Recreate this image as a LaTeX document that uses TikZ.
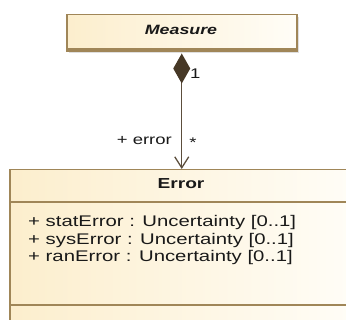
\documentclass[tikz,border=0pt]{standalone}
\usepackage{fontspec}
\setmainfont{Liberation Sans}[FakeStretch=1.32]
\usetikzlibrary{arrows.meta,shadows,calc}
\definecolor{umlborder}{RGB}{160,134,88}
\definecolor{umlfillA}{RGB}{252,238,205}
\definecolor{umlfillB}{RGB}{255,253,247}
\definecolor{umlline}{RGB}{92,78,60}
\definecolor{umldiam}{RGB}{70,56,38}
\definecolor{umltext}{RGB}{25,25,25}
\begin{document}
\begin{tikzpicture}[x=1pt,y=-1pt,
  classbox/.style={draw=umlborder, line width=1.5pt, left color=umlfillA, right color=umlfillB, inner sep=0pt},
  sepline/.style={draw=umlborder, line width=1.5pt},
  attr/.style={font=\fontsize{15.4}{18}\selectfont, text=umltext, inner sep=0pt},
  ctitle/.style={font=\fontsize{14.5}{17}\selectfont\bfseries, text=umltext, inner sep=0pt},
  lbl/.style={font=\fontsize{14}{16}\selectfont, text=umltext, inner sep=0pt},
  assoc/.style={draw=umlline, line width=1.3pt}
]
\useasboundingbox (0,0) rectangle (346,320);
\clip (0,0) rectangle (346,320);
% Measure class
\node[classbox, minimum width=230pt, minimum height=36.5pt, anchor=north west,
      drop shadow={shadow xshift=2pt, shadow yshift=-2pt, opacity=0.25}] (m) at (66,14) {};
\draw[sepline] ($(m.south west)+(0,-3)$) -- ($(m.south east)+(0,-3)$);
\node[ctitle, anchor=base, font=\fontsize{13.5}{16}\selectfont\bfseries\itshape] (mt) at (181,35) {Measure};
% Error class
\node[classbox, minimum width=344pt, minimum height=170pt, anchor=north west] (e) at (9,169) {};
\draw[sepline] ($(e.north west)+(0,33)$) -- ($(e.north east)+(0,33)$);
\draw[sepline] ($(e.north west)+(0,136)$) -- ($(e.north east)+(0,136)$);
\node[ctitle, anchor=base] (et) at (181,189) {Error};
\node[attr, anchor=base west] (a1) at (28,227) {+ statError : Uncertainty [0..1]};
\node[attr, anchor=base west] (a2) at (28,244.5) {+ sysError : Uncertainty [0..1]};
\node[attr, anchor=base west] (a3) at (28,262) {+ ranError : Uncertainty [0..1]};
% association
\draw[assoc, shorten <=1.5pt, {Diamond[length=30pt,width=17pt,fill=umldiam,color=umldiam]}-{Straight Barb[length=11pt,width=14pt]}] (m.south) -- (e.north);
\node[lbl, anchor=base west] (one) at (190,79) {1};
\node[lbl, anchor=base east] (role) at (172,145) {+ error};
\node[lbl, anchor=base] (many) at (193,148) {*};
\end{tikzpicture}
\end{document}
